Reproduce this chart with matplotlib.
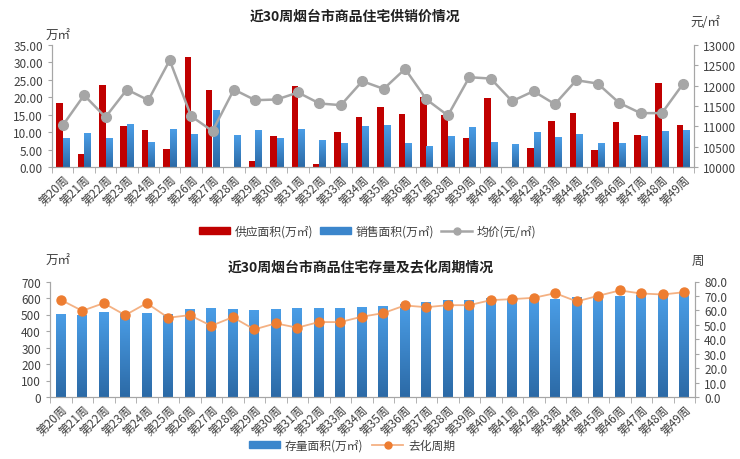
import matplotlib
matplotlib.use("Agg")
import matplotlib.pyplot as plt
import numpy as np
from matplotlib.colors import LinearSegmentedColormap
from matplotlib.lines import Line2D
from matplotlib.patches import Patch

plt.rcParams['font.family'] = ['Noto Sans CJK SC', 'DejaVu Sans']

weeks = ["第%d周" % w for w in range(20, 50)]

supply = [18.5, 3.7, 23.5, 11.8, 10.6, 5.2, 31.5, 22.0, 0.0, 1.6,
          9.0, 23.2, 0.8, 9.9, 14.4, 17.2, 15.3, 20.1, 14.8, 8.3,
          19.8, 0.0, 5.5, 13.2, 15.5, 4.9, 13.0, 9.2, 24.0, 12.0]
sales = [8.3, 9.7, 8.1, 12.1, 7.1, 10.9, 9.2, 16.2, 8.9, 10.4,
         8.3, 10.7, 7.6, 6.7, 11.6, 11.8, 6.7, 5.8, 8.8, 11.2,
         7.1, 6.5, 9.9, 8.4, 9.4, 6.7, 6.7, 8.8, 10.1, 10.4]
price = [11022, 11766, 11226, 11905, 11643, 12625, 11251, 10883, 11905, 11643,
         11660, 11832, 11562, 11521, 12110, 11921, 12412, 11660, 11267, 12208,
         12175, 11619, 11864, 11545, 12134, 12052, 11578, 11325, 11325, 12052]

stock = [498, 494, 514, 505, 508, 502, 528, 539, 528, 524,
         528, 539, 535, 539, 545, 549, 559, 573, 583, 583,
         597, 593, 593, 593, 601, 605, 607, 615, 621, 629]
cycle = [67.3, 59.7, 65.0, 56.7, 65.0, 54.9, 56.7, 49.3, 55.3, 46.8,
         51.0, 48.0, 51.9, 51.9, 55.6, 58.1, 63.4, 62.2, 63.6, 63.6,
         67.1, 67.8, 68.7, 71.9, 66.2, 70.1, 73.8, 71.7, 71.0, 72.6]

RED = "#C00000"
GRAY = "#A6A6A6"
ORANGE = "#ED7D31"
AXC = "#A6A6A6"
TXT = "#404040"
blue_cmap = LinearSegmentedColormap.from_list("b", ["#2C6AA6", "#4A9DE6"])


def gradient_bars(ax, bars):
    grad = np.linspace(0, 1, 64).reshape(-1, 1)
    for b in bars:
        x0, w, h = b.get_x(), b.get_width(), b.get_height()
        if h <= 0:
            continue
        ax.imshow(grad, cmap=blue_cmap, origin="lower", aspect="auto",
                  extent=(x0, x0 + w, 0, h), zorder=2)
        b.set_visible(False)


def style_axes(ax, ax2, n):
    for a in (ax, ax2):
        a.spines["top"].set_visible(False)
        for s in ("left", "right", "bottom"):
            a.spines[s].set_color(AXC)
        a.tick_params(colors=TXT, labelsize=8.5, length=3, width=0.8)
        a.tick_params(axis="y", color=AXC)
    ax.set_xlim(-0.5, n - 0.5)
    ax.set_xticks(np.arange(n))
    ax.set_xticklabels(weeks, rotation=45, ha="right", rotation_mode="anchor",
                       fontsize=8.5, color=TXT)
    ax.tick_params(axis="x", length=0)
    ax.set_xticks(np.arange(n + 1) - 0.5, minor=True)
    ax.tick_params(axis="x", which="minor", length=4, color=AXC)


fig = plt.figure(figsize=(7.4, 4.6), dpi=100)
n = len(weeks)
x = np.arange(n)

# top chart
ax1 = fig.add_axes([52 / 740, 1 - 168 / 460, 642 / 740, 122 / 460])
ax1b = ax1.twinx()
ax1.bar(x - 0.15, supply, width=0.3, color=RED, zorder=2)
sb = ax1.bar(x + 0.15, sales, width=0.3, color="#3B86CC", zorder=2)
gradient_bars(ax1, sb)
ax1b.plot(x, price, color=GRAY, lw=1.8, marker="o", ms=7, zorder=3)
ax1.set_ylim(0, 35)
ax1.set_yticks(np.arange(0, 35.1, 5))
ax1.set_yticklabels(["%.2f" % v for v in np.arange(0, 35.1, 5)])
ax1b.set_ylim(10000, 13000)
ax1b.set_yticks(np.arange(10000, 13001, 500))
style_axes(ax1, ax1b, n)
ax1.set_zorder(ax1b.get_zorder() - 1)
ax1b.patch.set_visible(False)
ax1b.set_zorder(2)

fig.text(355 / 740, 1 - 17 / 460, "近30周烟台市商品住宅供销价情况", ha="center", va="center",
         fontsize=10, fontweight="bold", color="#202020")
fig.text(46 / 740, 1 - 36 / 460, "万㎡", ha="left", va="center", fontsize=9, color=TXT)
fig.text(690 / 740, 1 - 22 / 460, "元/㎡", ha="left", va="center", fontsize=9, color=TXT)

h1 = [Patch(color=RED), Patch(color="#3B86CC"),
      Line2D([], [], color=GRAY, lw=1.8, marker="o", ms=5)]
fig.legend(h1, ["供应面积(万㎡)", "销售面积(万㎡)", "均价(元/㎡)"], loc="center",
           bbox_to_anchor=(368 / 740, 1 - 232 / 460), ncol=3, frameon=False,
           fontsize=8.5, handlelength=2.6, handleheight=0.6, columnspacing=0.6,
           handletextpad=0.4, labelcolor=TXT)

# bottom chart
ax2 = fig.add_axes([50 / 740, 1 - 398 / 460, 645 / 740, 115.5 / 460])
ax2b = ax2.twinx()
kb = ax2.bar(x, stock, width=0.45, color="#3B86CC", zorder=2)
gradient_bars(ax2, kb)
ax2b.plot(x, cycle, color="#F4B183", lw=1.3, zorder=3)
ax2b.plot(x, cycle, color=ORANGE, lw=0, marker="o", ms=6.5, zorder=4)
ax2.set_ylim(0, 700)
ax2.set_yticks(np.arange(0, 701, 100))
ax2b.set_ylim(0, 80)
ax2b.set_yticks(np.arange(0, 80.1, 10))
ax2b.set_yticklabels(["%.1f" % v for v in np.arange(0, 80.1, 10)])
style_axes(ax2, ax2b, n)
ax2.set_zorder(ax2b.get_zorder() - 1)
ax2b.patch.set_visible(False)
ax2b.set_zorder(2)

fig.text(361 / 740, 1 - 267 / 460, "近30周烟台市商品住宅存量及去化周期情况", ha="center", va="center",
         fontsize=10, fontweight="bold", color="#202020")
fig.text(46 / 740, 1 - 261 / 460, "万㎡", ha="left", va="center", fontsize=9, color=TXT)
fig.text(692 / 740, 1 - 261 / 460, "周", ha="left", va="center", fontsize=9, color=TXT)

h2 = [Patch(color="#3B86CC"),
      Line2D([], [], color="#F4B183", lw=1.3, marker="o", ms=5,
             markerfacecolor=ORANGE, markeredgecolor=ORANGE)]
fig.legend(h2, ["存量面积(万㎡)", "去化周期"], loc="center",
           bbox_to_anchor=(352 / 740, 1 - 446 / 460), ncol=2, frameon=False,
           fontsize=8.5, handlelength=2.6, handleheight=0.6, columnspacing=0.8,
           handletextpad=0.4, labelcolor=TXT)

fig.savefig("out.png", dpi=100)
